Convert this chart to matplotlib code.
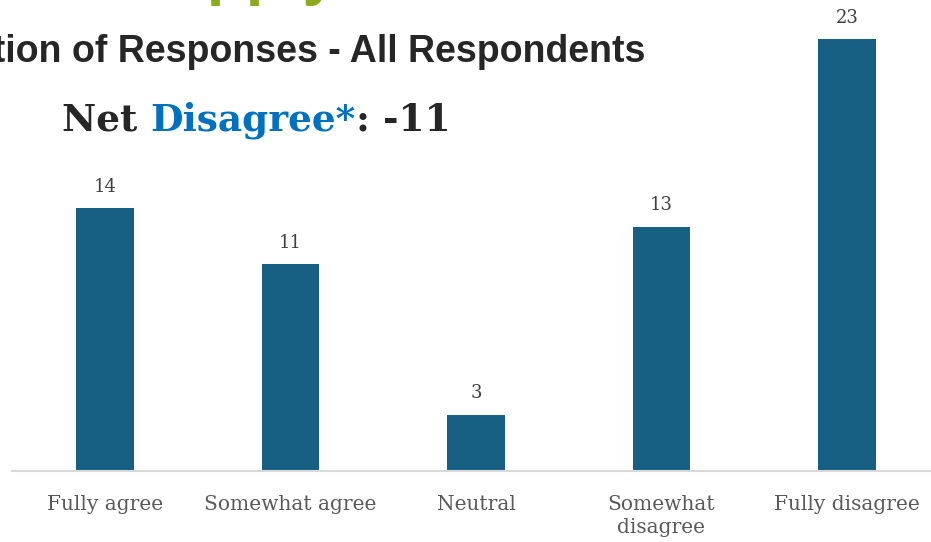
import matplotlib.pyplot as plt

categories = ['Fully agree', 'Somewhat agree', 'Neutral', 'Somewhat\ndisagree', 'Fully disagree']
counts = [14, 11, 3, 13, 23]
net_value = -11

BAR_COLOR = '#175F83'
SERIF = 'DejaVu Serif'
W, H = 931, 542

fig = plt.figure(figsize=(W / 100, H / 100), dpi=100)
fig.patch.set_facecolor('white')

# plot area spans nearly the full width, baseline near the bottom
ax = fig.add_axes([12.25 / W, (H - 471) / H, 927.5 / W, 469.5 / H])
ax.bar(range(len(counts)), counts, width=0.31, color=BAR_COLOR, zorder=2)
ax.set_xlim(-0.5, len(counts) - 0.5)
ax.set_ylim(0, 25)

for i, v in enumerate(counts):
    ax.annotate(str(v), (i, v), xytext=(0, 9), textcoords='offset points',
                ha='center', va='bottom', fontsize=13, color='#404040', family=SERIF)

ax.set_xticks(range(len(categories)))
ax.set_xticklabels(categories, fontsize=14.5, color='#595959', family=SERIF,
                   linespacing=1.3)
ax.tick_params(axis='x', length=0, pad=17)
ax.set_yticks([])
for side in ['left', 'right', 'top']:
    ax.spines[side].set_visible(False)
ax.spines['bottom'].set_color('#D9D9D9')
ax.spines['bottom'].set_linewidth(1.5)

# headings
fig.text(338 / W, 1 + 7.5 / H, 'Supply', ha='right', va='baseline', fontsize=46,
         fontweight='bold', color='#8DAA1B', family='Liberation Sans')
fig.text(645 / W, (H - 62) / H, 'Distribution of Responses - All Respondents',
         ha='right', va='baseline', fontsize=27, fontweight='bold', color='#262626',
         family='Liberation Sans')

x0 = 62 / W
y0 = (H - 131) / H
t1 = fig.text(x0, y0, 'Net ', ha='left', va='baseline', fontsize=27, fontweight='bold',
              color='#262626', family=SERIF)
t2 = ax.annotate('Disagree*', xycoords=t1, xy=(1, 0), va='bottom', ha='left',
                 fontsize=27, fontweight='bold', color='#0070C0', family=SERIF)
ax.annotate(f': {net_value}', xycoords=t2, xy=(1, 0), va='bottom', ha='left',
            fontsize=27, fontweight='bold', color='#262626', family=SERIF)

fig.savefig('out.png', dpi=100)
